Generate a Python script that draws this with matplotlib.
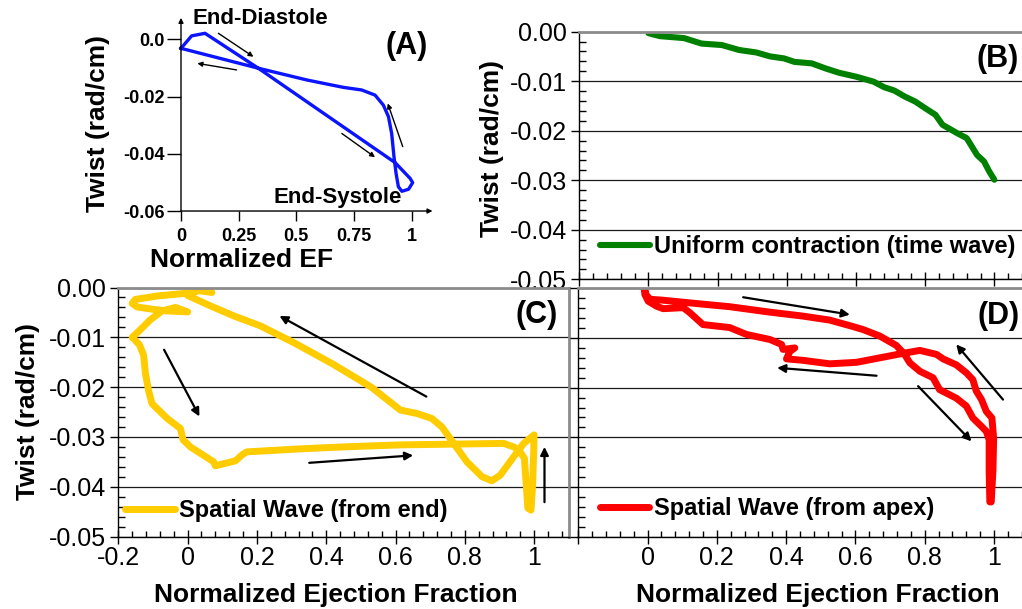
import matplotlib.pyplot as plt
from matplotlib.ticker import MultipleLocator

plt.rcParams['font.family'] = ['Liberation Sans', 'DejaVu Sans']
plt.rcParams['axes.unicode_minus'] = False

# (A) twist loop vs normalized EF
a_ef = [0, 0.046, 0.104, 0.335, 0.928, 0.993, 1.004, 0.986, 0.957, 0.942, 0.932,
        0.923, 0.913, 0.899, 0.877, 0.841, 0.783, 0.704, 0.545, 0.335, 0]
a_twist = [-0.00315, 0.0012, 0.0021, -0.0101, -0.0431, -0.0486, -0.0501, -0.0524,
           -0.0531, -0.0515, -0.0468, -0.0410, -0.0329, -0.0270, -0.0230, -0.0195,
           -0.0177, -0.0168, -0.0142, -0.0101, -0.00315]
a_arrows = [((0.162, 0.0021), (0.314, -0.0061)), ((0.241, -0.0107), (0.071, -0.0084)),
            ((0.697, -0.0329), (0.841, -0.0412)), ((0.961, -0.0375), (0.896, -0.0224))]

# (B) uniform contraction
b_ef = [0, 0.033, 0.103, 0.153, 0.212, 0.262, 0.312, 0.352, 0.392, 0.422, 0.472, 0.511,
        0.551, 0.601, 0.651, 0.681, 0.711, 0.741, 0.771, 0.801, 0.830, 0.850, 0.890,
        0.920, 0.950, 0.970, 0.985, 1.0]
b_twist = [-0.0003, -0.0009, -0.0013, -0.0024, -0.0027, -0.0037, -0.0042, -0.0050,
           -0.0054, -0.0061, -0.0064, -0.0074, -0.0083, -0.0091, -0.0101, -0.0112,
           -0.0119, -0.0131, -0.0141, -0.0155, -0.0168, -0.0188, -0.0204, -0.0215,
           -0.0249, -0.0262, -0.0282, -0.0299]

# (C) spatial wave from end
c_ef = [0.070, 0.030, -0.012, -0.088, -0.151, -0.160, -0.146, -0.098, -0.059, 0.0,
        -0.035, -0.074, -0.108, -0.137, -0.160, -0.139, -0.127, -0.122, -0.113, -0.103,
        -0.084, -0.059, -0.021, -0.013, 0.008, 0.075, 0.080, 0.138, 0.157, 0.171,
        0.325, 0.45, 0.614, 0.912, 0.941, 0.956, 0.972, 0.977, 0.982, 0.991, 0.996,
        0.999, 1.0, 0.970, 0.941, 0.902, 0.878, 0.850, 0.806, 0.768, 0.734, 0.705,
        0.662, 0.614, 0.53, 0.42, 0.31, 0.21, 0.133, 0.066, 0.0, 0.03]
c_twist = [-0.0010, -0.0006, -0.0012, -0.0017, -0.0024, -0.0032, -0.0039, -0.0044,
           -0.0047, -0.0049, -0.0040, -0.0047, -0.0065, -0.0085, -0.0100, -0.0115,
           -0.0136, -0.0172, -0.0206, -0.0233, -0.0246, -0.0263, -0.0283, -0.0306,
           -0.0320, -0.0350, -0.0358, -0.0348, -0.0336, -0.0330, -0.0324, -0.0320,
           -0.0316, -0.0313, -0.0320, -0.0326, -0.0343, -0.0393, -0.0443, -0.0447,
           -0.0393, -0.0326, -0.0296, -0.0313, -0.0340, -0.0377, -0.0388, -0.0380,
           -0.0350, -0.0313, -0.0280, -0.0263, -0.0253, -0.0246, -0.0200, -0.0154,
           -0.0112, -0.0077, -0.0057, -0.0037, -0.0016, -0.0006]
c_arrows = [((0.689, -0.0219), (0.265, -0.0057)), ((-0.068, -0.0125), (0.034, -0.0259)),
            ((0.351, -0.0352), (0.651, -0.0337)), ((1.030, -0.0431), (1.030, -0.0320))]

# (D) spatial wave from apex
d_ef = [-0.008, -0.005, 0.007, 0.045, 0.161, 0.237, 0.353, 0.449, 0.526, 0.593, 0.622,
        0.670, 0.718, 0.742, 0.757, 0.786, 0.824, 0.843, 0.891, 0.920, 0.939, 0.964,
        0.978, 0.986, 0.986, 0.988, 0.992, 0.997, 0.999, 0.994, 0.978, 0.964, 0.949,
        0.939, 0.920, 0.891, 0.853, 0.834, 0.786, 0.737, 0.670, 0.603, 0.526, 0.449,
        0.401, 0.411, 0.425, 0.391, 0.387, 0.353, 0.286, 0.237, 0.160, 0.122, 0.103,
        0.045, 0.026, 0.002, -0.008, -0.008]
d_twist = [-0.0002, -0.0012, -0.0022, -0.0024, -0.0032, -0.0037, -0.0048, -0.0056,
           -0.0064, -0.0077, -0.0083, -0.0096, -0.0115, -0.0133, -0.0150, -0.0167,
           -0.0180, -0.0204, -0.0221, -0.0237, -0.0261, -0.0278, -0.0288, -0.0305,
           -0.0366, -0.0430, -0.0430, -0.0366, -0.0302, -0.0261, -0.0248, -0.0224,
           -0.0207, -0.0184, -0.0170, -0.0154, -0.0142, -0.0133, -0.0125, -0.0131,
           -0.0140, -0.0149, -0.0152, -0.0145, -0.0142, -0.0127, -0.0120, -0.0123,
           -0.0113, -0.0103, -0.0093, -0.0079, -0.0073, -0.0049, -0.0039, -0.0041,
           -0.0036, -0.0026, -0.0012, -0.0002]
d_arrows = [((0.276, -0.0018), (0.584, -0.0053)), ((0.661, -0.0176), (0.374, -0.0160)),
            ((1.026, -0.0224), (0.891, -0.0113)), ((0.781, -0.0197), (0.935, -0.0308))]

big_ticks = [-0.2, 0, 0.2, 0.4, 0.6, 0.8, 1.0]
twist_ticks = [0, -0.01, -0.02, -0.03, -0.04, -0.05]
twist_labels = ['0.00', '-0.01', '-0.02', '-0.03', '-0.04', '-0.05']

fig = plt.figure(figsize=(10.22, 6.09), dpi=100)

# ---- panel A
ax = fig.add_axes([0.1771, 0.6535, 0.2461, 0.3172])
ax.set_xlim(0, 1.09)
ax.set_ylim(-0.06, 0.0075)
for s in ax.spines.values():
    s.set_visible(False)
ax.annotate('', xy=(0, 0.0075), xytext=(0, -0.06), annotation_clip=False,
            arrowprops=dict(arrowstyle='-|>', lw=1, color='k', mutation_scale=7,
                            shrinkA=0, shrinkB=0))
ax.annotate('', xy=(1.09, -0.06), xytext=(0, -0.06), annotation_clip=False,
            arrowprops=dict(arrowstyle='-|>', lw=1, color='k', mutation_scale=7,
                            shrinkA=0, shrinkB=0))
ax.plot(a_ef, a_twist, color='#0a14ff', lw=2.4, clip_on=False, solid_joinstyle='round')
for (x0, y0), (x1, y1) in a_arrows:
    ax.annotate('', xy=(x1, y1), xytext=(x0, y0),
                arrowprops=dict(arrowstyle='-|>', lw=1, color='k', mutation_scale=7,
                                shrinkA=0, shrinkB=0))
ax.set_xticks([0, 0.25, 0.5, 0.75, 1], ['0', '0.25', '0.5', '0.75', '1'],
              fontweight='bold', fontsize=13)
ax.set_yticks([0, -0.02, -0.04, -0.06], ['0.0', '-0.02', '-0.04', '-0.06'],
              fontweight='bold', fontsize=13)
ax.tick_params(axis='x', direction='out', length=7, width=1, pad=5)
ax.tick_params(axis='y', direction='out', length=10, width=1, pad=2)
ax.text(0.048, 0.0071, 'End-Diastole', fontsize=16, fontweight='bold',
        ha='left', va='center', clip_on=False)
ax.text(0.399, -0.0553, 'End-Systole', fontsize=16, fontweight='bold',
        ha='left', va='center')
ax.text(0.982, 0.854, '(A)', transform=ax.transAxes, fontsize=22, fontweight='bold',
        ha='right', va='center')
ax.set_xlabel('Normalized EF', fontsize=19, fontweight='bold', va='center')
ax.xaxis.set_label_coords(0.24, -0.255)
ax.set_ylabel('Twist (rad/cm)', fontsize=19, fontweight='bold', va='center')
ax.yaxis.set_label_coords(-0.33, 0.453)


def style_panel(ax, xlab, ylab):
    ax.set_xlim(-0.2, 1.1)
    ax.set_ylim(-0.05, 0)
    ax.set_xticks(big_ticks)
    ax.set_yticks(twist_ticks)
    ax.xaxis.set_minor_locator(MultipleLocator(0.04))
    ax.yaxis.set_minor_locator(MultipleLocator(0.002))
    ax.tick_params(axis='y', which='major', direction='out', length=6, width=1,
                   labelsize=18, pad=3)
    ax.tick_params(axis='y', which='minor', direction='in', length=5, width=1)
    ax.tick_params(axis='x', which='major', direction='inout', length=10, width=1,
                   labelsize=18, pad=1.5)
    ax.tick_params(axis='x', which='minor', direction='in', length=4, width=1)
    ax.set_axisbelow(True)
    ax.yaxis.grid(True, which='major', color='#1a1a1a', lw=0.9)
    for side in ['top', 'right']:
        ax.spines[side].set_color('#8c8c8c')
        ax.spines[side].set_linewidth(2)
    for side in ['left', 'bottom']:
        ax.spines[side].set_linewidth(1)
    if xlab:
        ax.set_xticklabels(['' if t == -0.2 and xlab == 'D' else ('%g' % t)
                            for t in big_ticks])
        ax.set_xlabel('Normalized Ejection Fraction', fontsize=19,
                      fontweight='bold', va='center')
    else:
        ax.set_xticklabels([])
    if ylab:
        ax.set_yticklabels(twist_labels)
        ax.set_ylabel('Twist (rad/cm)', fontsize=19, fontweight='bold', va='center')
    else:
        ax.set_yticklabels([])


def add_arrows(ax, arrows):
    for (x0, y0), (x1, y1) in arrows:
        ax.annotate('', xy=(x1, y1), xytext=(x0, y0),
                    arrowprops=dict(arrowstyle='-|>', lw=1.6, color='k',
                                    mutation_scale=12, shrinkA=0, shrinkB=0))


leg_kw = dict(frameon=False, handlelength=2.1, handletextpad=0.2, borderpad=0,
              borderaxespad=0, prop=dict(weight='bold', size=17))

# ---- panel B
ax = fig.add_axes([0.5668, 0.5414, 0.4400, 0.4066])
style_panel(ax, None, True)
ax.plot(b_ef, b_twist, color='#008000', lw=4.4, solid_capstyle='round',
        label='Uniform contraction (time wave)')
ax.legend(loc='center left', bbox_to_anchor=(0.046, 0.132), **leg_kw)
ax.text(0.978, 0.89, '(B)', transform=ax.transAxes, fontsize=22, fontweight='bold',
        ha='right', va='center')
ax.yaxis.set_label_coords(-0.194, 0.53)

# ---- panel C
ax = fig.add_axes([0.1158, 0.1190, 0.4407, 0.4089])
style_panel(ax, 'C', True)
ax.plot(c_ef, c_twist, color='#ffcc00', lw=5, solid_capstyle='round',
        solid_joinstyle='round', label='Spatial Wave (from end)')
add_arrows(ax, c_arrows)
ax.legend(loc='center left', bbox_to_anchor=(0.015, 0.104), **leg_kw)
ax.text(0.976, 0.89, '(C)', transform=ax.transAxes, fontsize=22, fontweight='bold',
        ha='right', va='center')
ax.yaxis.set_label_coords(-0.200, 0.504)
ax.xaxis.set_label_coords(0.483, -0.235)

# ---- panel D
ax = fig.add_axes([0.5658, 0.1187, 0.4407, 0.4079])
style_panel(ax, 'D', False)
ax.plot(d_ef, d_twist, color='#ff0000', lw=5, solid_capstyle='round',
        solid_joinstyle='round', label='Spatial Wave (from apex)')
add_arrows(ax, d_arrows)
ax.legend(loc='center left', bbox_to_anchor=(0.048, 0.114), **leg_kw)
ax.text(0.98, 0.889, '(D)', transform=ax.transAxes, fontsize=22, fontweight='bold',
        ha='right', va='center')
ax.xaxis.set_label_coords(0.532, -0.235)

fig.savefig('out.png', dpi=100)
